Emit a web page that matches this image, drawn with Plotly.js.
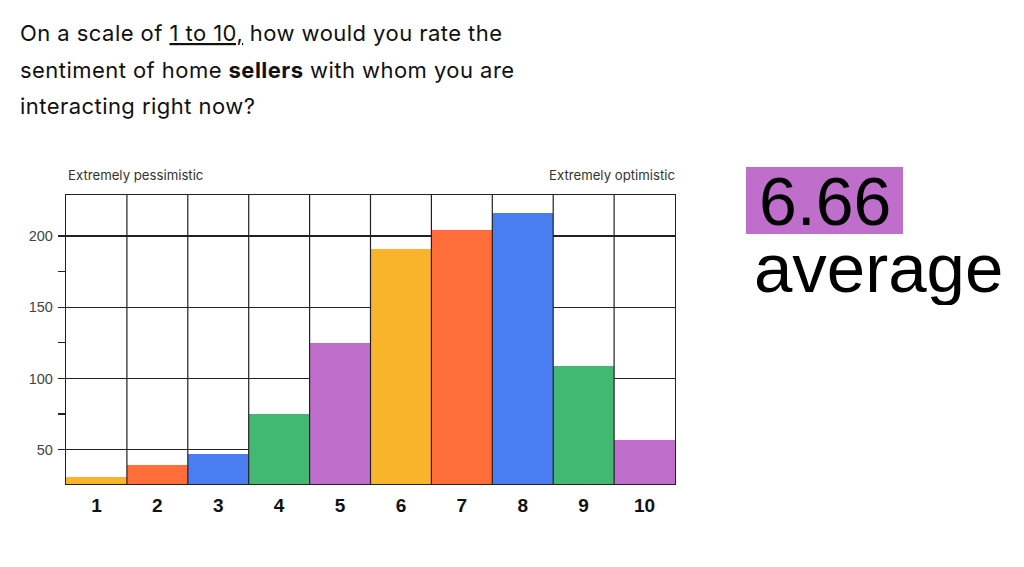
<!DOCTYPE html>
<html>
<head>
<meta charset="utf-8">
<script src="https://cdn.plot.ly/plotly-3.0.1.min.js"></script>
<style>
  html, body { margin: 0; padding: 0; background: #fff; }
  #chart { width: 1024px; height: 567px; }
</style>
</head>
<body>
<div id="chart"></div>
<script>
// survey answers, rating 1..10
const ratings = [1, 2, 3, 4, 5, 6, 7, 8, 9, 10];
const counts = [31, 39, 47, 75, 125, 191, 204, 216, 109, 57];
const palette = ['#F8B52C', '#FF6D3A', '#4A7DF0', '#42B872', '#BF6ECC'];
const yTicks = [50, 100, 150, 200];
const yMinorTicks = [75, 125, 175];
const yRange = [25.9, 228.8];
const average = '6.66';

// plot box in page pixels
const PL = 66, PR = 675, PT = 195, PB = 484;
const px = (x) => (x - PL) / (PR - PL);
const py = (y) => (PB - y) / (PB - PT);

const font = 'Liberation Sans, Arial, sans-serif';
const textFont = 'Inter, Liberation Sans, sans-serif';
const ink = '#222';
const highlight = '#BF6ECC';

const data = [{
    type: 'bar',
    x: ratings,
    y: counts,
    marker: {
        color: ratings.map((v, i) => palette[i % palette.length]),
        line: { width: 0 },
    },
    hoverinfo: 'x+y',
}];

// separators between rating columns
const shapes = ratings.slice(0, -1).map((v) => ({
    type: 'line',
    xref: 'x',
    yref: 'paper',
    x0: v + 0.5,
    x1: v + 0.5,
    y0: 0,
    y1: 1,
    layer: 'above',
    line: { color: ink, width: 1.2 },
}));

// highlight box behind the average
shapes.push({
    type: 'rect',
    xref: 'paper', yref: 'paper',
    x0: px(746), x1: px(903),
    y0: py(234), y1: py(167),
    fillcolor: highlight,
    line: { width: 0 },
    layer: 'above',
});

const spread = (s) => '<span style="letter-spacing:0.45px">' + s + '</span>';
const titleLines = [
    spread('On a scale of ') + '<span style="text-decoration:underline;letter-spacing:0.45px">1 to 10,</span>' + spread(' how would you rate the'),
    spread('sentiment of home ') + '<b>' + spread('sellers') + '</b>' + spread(' with whom you are'),
    spread('interacting right now?'),
];
const titleY = [33, 70, 106];

const annotations = titleLines.map((t, i) => ({
    text: t,
    xref: 'paper', yref: 'paper',
    x: px(18), y: py(titleY[i]),
    xanchor: 'left', yanchor: 'middle',
    showarrow: false,
    font: { family: textFont, size: 22, color: '#111' },
}));

annotations.push(
    {
        text: 'Extremely pessimistic',
        xref: 'paper', yref: 'paper',
        x: px(66), y: py(175),
        xanchor: 'left', yanchor: 'middle',
        showarrow: false,
        font: { family: textFont, size: 13.2, color: '#333' },
    },
    {
        text: 'Extremely optimistic',
        xref: 'paper', yref: 'paper',
        x: px(677), y: py(175),
        xanchor: 'right', yanchor: 'middle',
        showarrow: false,
        font: { family: textFont, size: 13.2, color: '#333' },
    },
    {
        text: average,
        xref: 'paper', yref: 'paper',
        x: px(824.5), y: py(200.5),
        xanchor: 'center', yanchor: 'middle',
        showarrow: false,
        borderpad: 0,
        height: 60,
        font: { family: font, size: 68, color: '#000' },
    },
    {
        text: 'average',
        xref: 'paper', yref: 'paper',
        x: px(752), y: py(268),
        xanchor: 'left', yanchor: 'middle',
        showarrow: false,
        height: 74,
        font: { family: font, size: 69, color: '#000' },
    }
);

const layout = {
    width: 1024,
    height: 567,
    margin: { l: PL, r: 1024 - PR, t: PT, b: 567 - PB, pad: 0 },
    paper_bgcolor: '#fff',
    plot_bgcolor: '#fff',
    showlegend: false,
    bargap: 0,
    xaxis: {
        range: [0.5, 10.5],
        tickvals: ratings,
        ticktext: ratings.map(String),
        ticks: 'outside',
        ticklen: 4,
        tickcolor: 'rgba(0,0,0,0)',
        showgrid: false,
        zeroline: false,
        showline: true,
        mirror: true,
        linecolor: ink,
        linewidth: 1.3,
        tickfont: { family: font, size: 19, color: '#111', weight: 'bold' },
        fixedrange: true,
    },
    yaxis: {
        range: yRange,
        tickvals: yTicks,
        ticks: 'outside',
        ticklen: 7,
        tickcolor: ink,
        tickwidth: 1.2,
        ticklabelstandoff: 2,
        showgrid: true,
        gridcolor: ink,
        gridwidth: 1.2,
        zeroline: false,
        showline: true,
        mirror: true,
        linecolor: ink,
        linewidth: 1.2,
        minor: {
            tickvals: yMinorTicks,
            ticks: 'outside',
            ticklen: 7,
            tickcolor: ink,
            tickwidth: 1.2,
            showgrid: false,
        },
        tickfont: { family: font, size: 14.5, color: '#444' },
        fixedrange: true,
    },
    yaxis2: {
        overlaying: 'y',
        side: 'left',
        range: yRange,
        tickvals: yMinorTicks,
        ticks: 'inside',
        ticklen: 8,
        tickcolor: ink,
        tickwidth: 1.2,
        showticklabels: false,
        showgrid: false,
        zeroline: false,
        showline: false,
        fixedrange: true,
    },
    shapes: shapes,
    annotations: annotations,
};

Plotly.newPlot('chart', data, layout, { displayModeBar: false, staticPlot: true });
</script>
</body>
</html>
